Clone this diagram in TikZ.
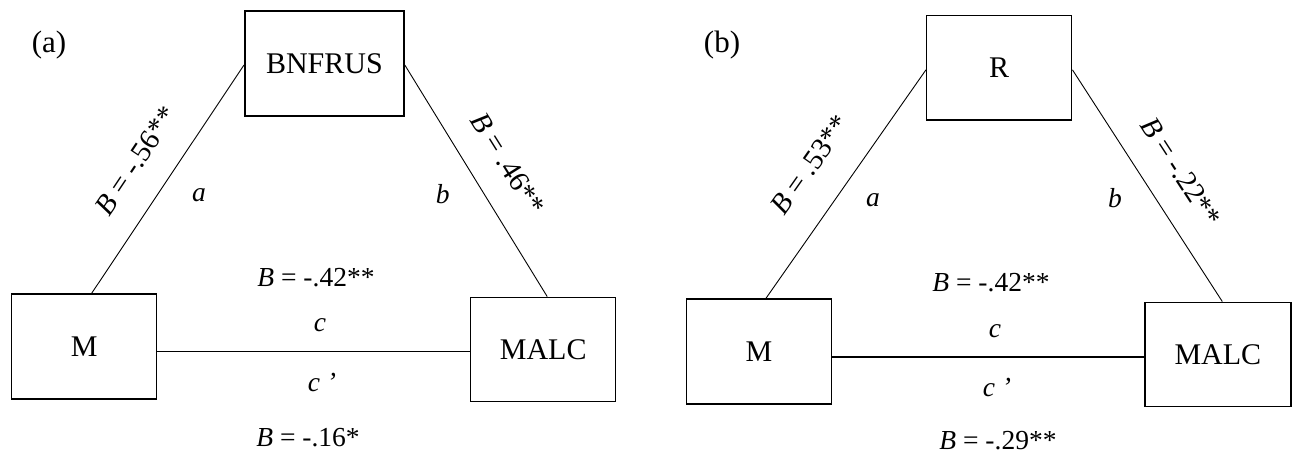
\documentclass[tikz,border=0pt]{standalone}
\usepackage{fontspec}
\setmainfont{Liberation Serif}
\begin{document}
\begin{tikzpicture}[x=1pt,y=-1pt,
  box/.style={draw,line width=1.5pt,inner sep=0pt,font=\fontsize{30}{36}\selectfont},
  lbl/.style={font=\fontsize{27.5}{32}\selectfont,inner sep=0pt},
  rlbl/.style={font=\fontsize{29}{34}\selectfont,inner sep=0pt},
  tag/.style={font=\fontsize{31}{36}\selectfont,inner sep=0pt},
  thin/.style={line width=0.9pt},
  thick/.style={line width=1.8pt}]
\useasboundingbox (0,0) rectangle (1293,452);
% ---------- panel (a)
\node[tag] (ta) at (49,45) {(a)};
\node[box,minimum width=159.3pt,minimum height=104.7pt] (bnf) at (324.4,63.4) {BNFRUS};
\node[box,minimum width=145pt,minimum height=105pt] (ma) at (84.2,346.5) {M};
\node[box,minimum width=145pt,minimum height=104.4pt] (malca) at (543.2,349.5) {MALC};
\draw[thin] ([yshift=-1.6pt]bnf.west) -- ([xshift=7.5pt]ma.north);
\draw[thin] ([yshift=-1.6pt]bnf.east) -- ([xshift=4pt]malca.north);
\draw[thick] ([yshift=-5pt]ma.east) -- ([yshift=-2pt]malca.west);
\node[rlbl,rotate=56.3] (la1) at (136,161) {\textit{B} = -.56**};
\node[rlbl,rotate=-58] (lb1) at (508,164) {\textit{B} = .46**};
\node[lbl] (aa) at (199,195) {\textit{a}};
\node[lbl] (ba) at (442.7,194) {\textit{b}};
\node[lbl,anchor=base] (ca1) at (316,286.7) {\textit{B} = -.42**};
\node[lbl,anchor=base] (ca) at (320,331.7) {\textit{c}};
\node[lbl,anchor=base] (cpa) at (322,391.7) {\textit{c ’}};
\node[lbl,anchor=base] (cpa1) at (308,446.7) {\textit{B} = -.16*};
% ---------- panel (b)
\node[tag] (tb) at (722,45) {(b)};
\node[box,minimum width=145pt,minimum height=104.3pt] (r) at (999.2,67.85) {R};
\node[box,minimum width=145.4pt,minimum height=105pt] (mb) at (759,351.5) {M};
\node[box,minimum width=145.7pt,minimum height=104.4pt] (malcb) at (1217.9,354.5) {MALC};
\draw[thin] ([yshift=-2pt]r.west) -- ([xshift=7pt]mb.north);
\draw[thin] ([yshift=-2pt]r.east) -- ([xshift=4.4pt]malcb.north);
\draw[thick] ([yshift=-5.8pt]mb.east) -- ([yshift=-2.8pt]malcb.west);
\node[rlbl,rotate=54.9] (la2) at (810,165) {\textit{B} = .53**};
\node[rlbl,rotate=-57] (lb2) at (1181,172) {\textit{B} = -.22**};
\node[lbl] (ab) at (873,200) {\textit{a}};
\node[lbl] (bb) at (1115,198) {\textit{b}};
\node[lbl,anchor=base] (cb1) at (991,291.7) {\textit{B} = -.42**};
\node[lbl,anchor=base] (cb) at (995,337) {\textit{c}};
\node[lbl,anchor=base] (cpb) at (997,396.7) {\textit{c ’}};
\node[lbl,anchor=base] (cpb1) at (998,449) {\textit{B} = -.29**};
\end{tikzpicture}
\end{document}
